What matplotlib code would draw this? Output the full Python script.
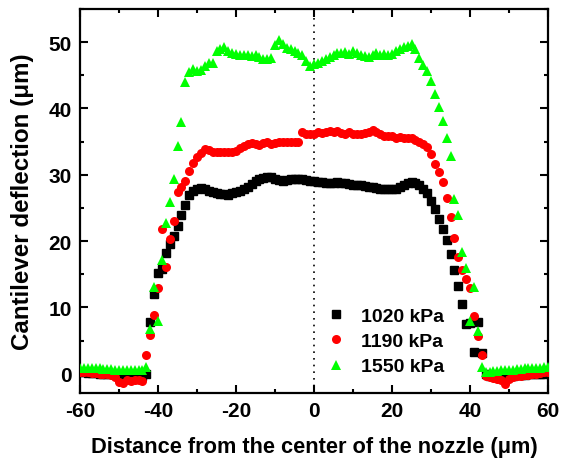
import numpy as np
import matplotlib.pyplot as plt
from matplotlib.ticker import MultipleLocator

# posiciones (um), paso de 1 um
x = np.arange(-60, 61)

p1020 = [0.2, 0.2, 0.1, 0.1, 0.1, 0.0, 0.0, 0.0, -0.1, -0.1,
         -0.1, -0.2, -0.2, -0.2, -0.3, -0.3, -0.3,
         0.0, 7.8, 12.0, 15.2, 15.8, 18.2, 19.6, 20.8, 22.3, 23.9, 25.5, 26.9,
         27.5, 27.8, 28.0, 27.9, 27.6, 27.4, 27.3, 27.1, 27.1, 27.0, 27.2,
         27.4, 27.6, 27.9, 28.2, 28.6, 29.0, 29.3, 29.5, 29.6, 29.6, 29.4,
         29.2, 29.1, 29.2, 29.3, 29.3, 29.4, 29.3, 29.2, 29.1, 29.0,
         28.9, 28.9, 28.8, 28.8, 28.8, 28.9, 28.8, 28.7, 28.6, 28.5,
         28.5, 28.4, 28.3, 28.2, 28.1, 28.0, 27.9, 27.9, 27.9, 27.9,
         27.9, 28.1, 28.4, 28.7, 28.9, 28.7, 28.4, 27.8, 27.2, 26.1,
         24.8, 23.3, 21.9, 20.2, 18.1, 15.7, 13.3, 10.5, 7.5, 7.6,
         3.3, 7.8, 3.1, 0.0, -0.4, -0.4, -0.4, -0.3, -0.3, -0.3,
         -0.3, -0.2, -0.2, -0.2, -0.1, -0.1, -0.1, 0.0, 0.0, 0.1]

p1190 = [0.3, 0.2, 0.2, 0.1, 0.1, 0.0, 0.0, -0.1, -0.2, -0.5,
         -1.2, -1.4, -1.0, -1.1, -1.0, -1.0, -1.1,
         2.8, 5.8, 8.8, 13.0, 21.8, 16.1, 20.3, 23.1, 27.4, 28.1, 29.0, 30.5,
         31.8, 32.7, 33.3, 33.9, 33.8, 33.5, 33.4, 33.4, 33.5, 33.4, 33.4,
         33.6, 34.1, 34.4, 34.6, 34.8, 34.7, 34.5, 34.8, 34.9, 34.6, 34.8,
         35.0, 34.9, 34.9, 35.0, 35.0, 35.0, 36.4, 36.2, 36.1, 36.2,
         36.4, 36.3, 36.5, 36.6, 36.4, 36.6, 36.3, 36.2, 36.4, 36.2,
         36.1, 36.2, 36.3, 36.5, 36.8, 36.5, 36.2, 35.9, 35.8, 35.8,
         35.6, 35.7, 35.6, 35.5, 35.5, 35.3, 35.0, 34.6, 34.2, 33.1,
         31.6, 30.4, 28.9, 26.5, 23.6, 20.4, 17.6, 15.6, 14.3, 12.9,
         8.7, 5.7, 2.9, -0.3, -0.5, -0.6, -0.8, -1.0, -1.5, -0.8,
         -0.5, -0.3, -0.3, -0.2, -0.2, -0.1, 0.0, 0.1, 0.2, 0.3]

p1550 = [0.9, 0.9, 0.9, 0.8, 0.8, 0.8, 0.7, 0.7, 0.7, 0.6,
         0.6, 0.6, 0.6, 0.5, 0.5, 0.5, 0.5,
         1.0, 6.7, 13.1, 8.0, 17.1, 22.7, 25.9, 29.4, 34.3, 38.0, 44.0, 45.5,
         45.9, 45.7, 45.8, 46.4, 46.9, 46.9, 48.7, 48.9, 49.2, 48.6, 48.3,
         48.2, 48.1, 48.0, 48.0, 47.9, 48.1, 47.8, 47.4, 47.4, 47.6, 49.5,
         50.3, 49.7, 49.1, 48.9, 48.7, 48.4, 48.0, 47.2, 46.4, 46.7,
         46.9, 47.2, 47.4, 47.8, 48.0, 48.4, 48.3, 48.5, 48.2, 48.7,
         48.3, 48.0, 47.9, 47.7, 48.0, 48.3, 48.1, 48.2, 48.1, 48.2,
         48.6, 49.0, 49.2, 49.4, 49.7, 48.9, 47.6, 46.5, 45.6, 44.2,
         42.2, 40.2, 38.1, 35.6, 32.8, 26.3, 23.9, 18.3, 15.9, 8.0,
         13.1, 6.5, 1.0, 0.3, 0.3, 0.4, 0.4, 0.5, 0.5, 0.6,
         0.6, 0.7, 0.7, 0.8, 0.8, 0.8, 0.9, 0.9, 1.0, 1.0]

labels = ['1020 kPa', '1190 kPa', '1550 kPa']

plt.rcParams['font.family'] = ['Liberation Sans', 'DejaVu Sans']
plt.rcParams['font.weight'] = 'bold'
plt.rcParams['axes.unicode_minus'] = False

fig = plt.figure(figsize=(5.74, 4.64), dpi=100)
ax = fig.add_axes([0.1394, 0.1509, 0.8153, 0.8275])

ax.axvline(0, color='black', linestyle=(0, (1, 3)), linewidth=1.2, zorder=1)

ax.plot(x, p1020, 's', color='black', markersize=5.8, label=labels[0], zorder=2)
ax.plot(x, p1190, 'o', color='#ff0000', markersize=6.5, markeredgewidth=0, label=labels[1], zorder=3)
ax.plot(x, p1550, '^', color='#00ff00', markersize=7, markeredgewidth=0, label=labels[2], zorder=4)

ax.set_xlim(-60, 60)
ax.set_ylim(-2.9, 55)
ax.xaxis.set_major_locator(MultipleLocator(20))
ax.xaxis.set_minor_locator(MultipleLocator(10))
ax.yaxis.set_major_locator(MultipleLocator(10))
ax.yaxis.set_minor_locator(MultipleLocator(5))
ax.tick_params(which='both', direction='in', top=True, right=True, width=1.5, labelsize=15)
ax.tick_params(which='major', length=6, pad=6)
ax.tick_params(which='minor', length=3)
for s in ax.spines.values():
    s.set_linewidth(1.6)

ax.set_xlabel('Distance from the center of the nozzle (\u03bcm)', fontsize=15.7, fontweight='bold', labelpad=11)
ax.set_ylabel('Cantilever deflection (\u03bcm)', fontsize=17.4, fontweight='bold', labelpad=10)

ax.legend(loc='lower left', bbox_to_anchor=(0.467, 0.0), frameon=False, fontsize=14,
          handletextpad=0.3, labelspacing=0.4, markerscale=1.0)

plt.savefig('out.png')
